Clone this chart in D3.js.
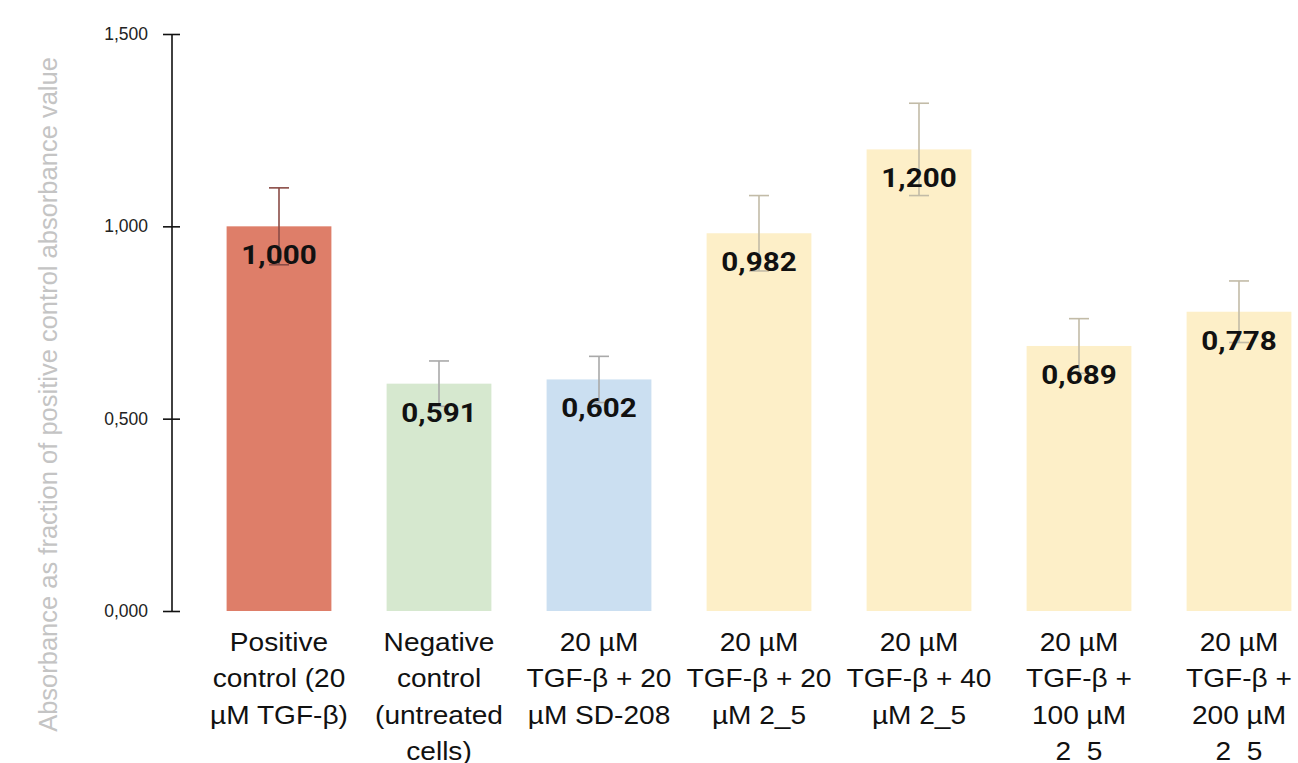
<!DOCTYPE html>
<html><head><meta charset="utf-8">
<script src="https://cdn.jsdelivr.net/npm/d3@7/dist/d3.min.js"></script>
<style>body{margin:0;background:#fff}svg{display:block}</style>
</head><body>
<svg id="c" width="1298" height="763"></svg>
<script>
const categories = [
  ["Positive","control (20","µM TGF-β)"],
  ["Negative","control","(untreated","cells)"],
  ["20 µM","TGF-β + 20","µM SD-208"],
  ["20 µM","TGF-β + 20","µM 2_5"],
  ["20 µM","TGF-β + 40","µM 2_5"],
  ["20 µM","TGF-β +","100 µM","2_5"],
  ["20 µM","TGF-β +","200 µM","2_5"]
];
const values = [1.000, 0.591, 0.602, 0.982, 1.200, 0.689, 0.778];
const errors = [0.100, 0.059, 0.060, 0.098, 0.120, 0.071, 0.080];
const yTicks = [0, 0.5, 1.0, 1.5];
const barColors = ["#DE7E69","#D6E8CF","#CBDFF1","#FDEFC8","#FDEFC8","#FDEFC8","#FDEFC8"];
const errColors = ["#8A4C46","#A9A9A9","#A9A9A9","#C2BBA7","#C2BBA7","#C2BBA7","#C2BBA7"];
const yTitle = "Absorbance as fraction of positive control absorbance value";

const loc = d3.formatLocale({decimal:",", thousands:".", grouping:[3], currency:["",""]});
const fmt = loc.format(".3f");

const svg = d3.select("#c");
const axisX = 172;
const y = d3.scaleLinear().domain([0,1.5]).range([611,34]);
const idx = d3.range(values.length);
const x = d3.scaleBand().domain(idx).range([199,1319]).paddingInner(0.345).paddingOuter(0.1725);
const cxOf = i => x(i)+x.bandwidth()/2;

// bars
svg.append("g").selectAll("rect").data(idx).join("rect")
  .attr("x", i=>x(i)).attr("width", x.bandwidth())
  .attr("y", i=>y(values[i])).attr("height", i=>y(0)-y(values[i]))
  .attr("fill", i=>barColors[i]);

// error bars
const eg = svg.append("g").attr("stroke-width",1.6).attr("fill","none");
idx.forEach(i=>{
  const cx = cxOf(i);
  const c = errColors[i];
  const hi = y(values[i]+errors[i]), lo = y(values[i]-errors[i]);
  eg.append("line").attr("x1",cx).attr("x2",cx).attr("y1",hi).attr("y2",lo).attr("stroke",c);
  eg.append("line").attr("x1",cx-10).attr("x2",cx+10).attr("y1",hi).attr("y2",hi).attr("stroke",c);
  eg.append("line").attr("x1",cx-10).attr("x2",cx+10).attr("y1",lo).attr("y2",lo).attr("stroke",c);
});

// value labels
svg.append("g").selectAll("text").data(idx).join("text")
  .attr("transform", i=>`translate(${cxOf(i)},${y(values[i])+38}) scale(1.14,1)`)
  .attr("text-anchor","middle").attr("font-family","Roboto").attr("font-weight","bold")
  .attr("font-size",26).attr("fill","#111").text(i=>fmt(values[i]));

// y axis
const ax = svg.append("g").attr("transform",`translate(${axisX},0)`)
  .call(d3.axisLeft(y).tickValues(yTicks).tickFormat(fmt).tickSize(9).tickPadding(14));
ax.select(".domain").attr("d", `M0,${y(1.5)}V${y(0)}`).attr("stroke","#111").attr("stroke-width",1.6);
ax.selectAll(".tick line").attr("x2",-9).attr("x1",8).attr("stroke","#111").attr("stroke-width",1.6);
ax.selectAll(".tick text").attr("font-family","Liberation Sans, Arial").attr("font-size",17.5).attr("fill","#222").attr("x",-24);

// y title
svg.append("text").attr("transform",`translate(57,${(y(0)+y(1.5))/2+72}) rotate(-90)`)
  .attr("text-anchor","middle").attr("font-family","Liberation Sans, Arial").attr("font-size",25.5)
  .attr("fill","#C4C4C4").text(yTitle);

// category labels
const cg = svg.append("g");
idx.forEach(i=>{
  const t = cg.append("text").attr("transform",`translate(${cxOf(i)},651) scale(1.08,1)`)
    .attr("text-anchor","middle").attr("font-family","Liberation Sans, Arial").attr("font-size",26).attr("fill","#111");
  categories[i].forEach((ln,k)=>{
    t.append("tspan").attr("x", 0).attr("dy", k===0?0:36.5).text(ln);
  });
});
</script>
</body></html>
